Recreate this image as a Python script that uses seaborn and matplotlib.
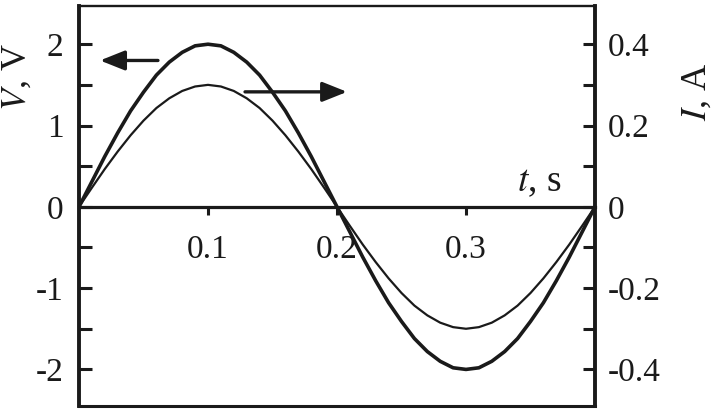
import seaborn as sns
import pandas as pd
import matplotlib.pyplot as plt
from matplotlib.ticker import MultipleLocator

sns.set_theme(style="white")
plt.rcParams['font.family'] = ['Liberation Serif', 'DejaVu Serif']
plt.rcParams['mathtext.fontset'] = 'stix'

ink = '#1a1a1a'

# values
t = [0, 0.01, 0.02, 0.03, 0.04, 0.05, 0.06, 0.07, 0.08, 0.09, 0.1,
     0.11, 0.12, 0.13, 0.14, 0.15, 0.16, 0.17, 0.18, 0.19, 0.2,
     0.21, 0.22, 0.23, 0.24, 0.25, 0.26, 0.27, 0.28, 0.29, 0.3,
     0.31, 0.32, 0.33, 0.34, 0.35, 0.36, 0.37, 0.38, 0.39, 0.4]
voltage = [0, 0.31, 0.62, 0.91, 1.18, 1.41, 1.62, 1.78, 1.90, 1.98, 2.0,
           1.98, 1.90, 1.78, 1.62, 1.41, 1.18, 0.91, 0.62, 0.31, 0,
           -0.31, -0.62, -0.91, -1.18, -1.41, -1.62, -1.78, -1.90, -1.98, -2.0,
           -1.98, -1.90, -1.78, -1.62, -1.41, -1.18, -0.91, -0.62, -0.31, 0]
current = [0, 0.047, 0.093, 0.136, 0.176, 0.212, 0.243, 0.267, 0.285, 0.296, 0.3,
           0.296, 0.285, 0.267, 0.243, 0.212, 0.176, 0.136, 0.093, 0.047, 0,
           -0.047, -0.093, -0.136, -0.176, -0.212, -0.243, -0.267, -0.285, -0.296, -0.3,
           -0.296, -0.285, -0.267, -0.243, -0.212, -0.176, -0.136, -0.093, -0.047, 0]
x_ticks = [0.1, 0.2, 0.3]
v_ticks = [-2, -1, 0, 1, 2]
i_ticks = [-0.4, -0.2, 0, 0.2, 0.4]

df = pd.DataFrame({'t': t, 'V': voltage, 'I': current})

fig = plt.figure(figsize=(7.2, 4.15), dpi=100)
ax = fig.add_axes([79 / 720, 1 - 406 / 415, 516 / 720, 400 / 415])
ax2 = ax.twinx()

sns.lineplot(data=df, x='t', y='V', ax=ax, color=ink, lw=2.6)
sns.lineplot(data=df, x='t', y='I', ax=ax2, color=ink, lw=1.6)

ax.set_xlim(0, 0.4)
ax.set_ylim(-2.45, 2.47)
ax2.set_ylim(-2.45 * 0.2, 2.47 * 0.2)
ax.set_xlabel('')
ax.set_ylabel('')
ax2.set_ylabel('')

# x axis sits on the zero line
ax.spines['bottom'].set_position(('data', 0))
ax.spines['bottom'].set_linewidth(2.3)
ax.spines['top'].set_visible(False)
ax.spines['right'].set_visible(False)
ax.spines['left'].set_linewidth(2.8)
ax2.spines['left'].set_visible(False)
ax2.spines['right'].set_linewidth(2.8)
ax2.spines['top'].set_linewidth(1.7)
ax2.spines['bottom'].set_linewidth(2.2)
for s in list(ax.spines.values()) + list(ax2.spines.values()):
    s.set_color(ink)

ax.set_xticks(x_ticks)
ax.set_xticklabels([str(v) for v in x_ticks])
ax.tick_params(axis='x', direction='out', length=6, width=2.2, pad=14,
               labelsize=24, colors=ink, bottom=True)

ax.set_yticks(v_ticks)
ax.set_yticklabels([str(v) for v in v_ticks])
ax.yaxis.set_minor_locator(MultipleLocator(0.5))
ax.tick_params(axis='y', which='both', direction='in', length=9, width=2.2,
               pad=11, labelsize=24, colors=ink, left=True)

ax2.set_yticks(i_ticks)
ax2.set_yticklabels(['0' if v == 0 else f'{v:g}' for v in i_ticks])
ax2.yaxis.set_minor_locator(MultipleLocator(0.1))
ax2.tick_params(axis='y', which='both', direction='in', length=9, width=2.2,
                pad=9, labelsize=24, colors=ink, right=True)

fig.text(17 / 720, 1 - 77 / 415, r'$\mathit{V}$, V', rotation=90, ha='center',
         va='center', fontsize=26, color=ink)
fig.text(697 / 720, 1 - 92 / 415, r'$\mathit{I}$, A', rotation=90, ha='center',
         va='center', fontsize=26, color=ink)
ax.text(0.357, 0.3, r'$\mathit{t}$, s', ha='center', va='center', fontsize=27,
        color=ink)

arrow = dict(arrowstyle='-|>,head_length=0.75,head_width=0.3', lw=2.4,
             color=ink, mutation_scale=20, shrinkA=0, shrinkB=0)
ax.annotate('', xy=(0.0163, 1.80), xytext=(0.0612, 1.80), arrowprops=arrow)
ax.annotate('', xy=(0.2078, 1.414), xytext=(0.1287, 1.414), arrowprops=arrow)

fig.savefig('out.png', dpi=100)
